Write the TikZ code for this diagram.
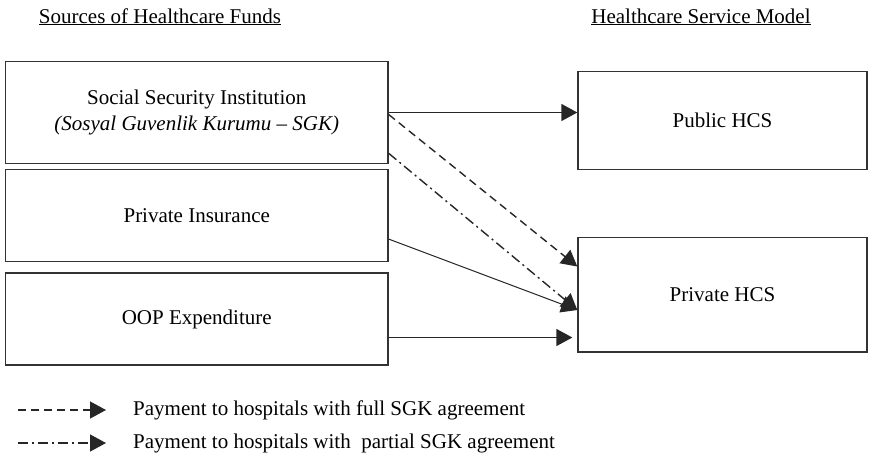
\documentclass[tikz,border=0pt]{standalone}
\usepackage{fontspec}
\setmainfont{Liberation Serif}
\usetikzlibrary{arrows.meta}
\usetikzlibrary{calc}

\begin{document}
\begin{tikzpicture}[x=1pt, y=-1pt,
	box/.style={draw=black!80, line width=1.3pt, rectangle, inner sep=0pt, align=center, font=\fontsize{21}{26}\selectfont},
	lbl/.style={inner sep=0pt, font=\fontsize{21}{26}\selectfont},
	flow/.style={draw=black!85, line width=1.4pt, -{Triangle[length=16pt,width=17pt]}},
	full/.style={flow, dash pattern=on 8pt off 5pt},
	part/.style={flow, dash pattern=on 10pt off 4pt on 2pt off 4pt}]
	\useasboundingbox (0,0) rectangle (869,455);
	\node[lbl, anchor=base] (src) at (160,23) {\underline{Sources of Healthcare Funds}};
	\node[lbl, anchor=base] (mdl) at (701,23) {\underline{Healthcare Service Model}};
	\node[box, minimum width=382.5pt, minimum height=102pt] (ssi) at (196.75,112.5) {Social Security Institution\\\textit{(Sosyal Guvenlik Kurumu -- SGK)}};
	\node[box, minimum width=382.5pt, minimum height=92pt] (pins) at (196.75,215.5) {Private Insurance};
	\node[box, minimum width=382.5pt, minimum height=92pt] (oop) at (196.75,319) {OOP Expenditure};
	\node[box, minimum width=289pt, minimum height=98pt] (pub) at (722.5,120.4) {Public HCS};
	\node[box, minimum width=289pt, minimum height=114.5pt] (priv) at (722.5,294.75) {Private HCS};
	\draw[flow] (ssi.east) -- (ssi.east -| pub.west);
	\draw[full] ([yshift=-2pt]ssi.east) -- (priv.169.5);
	\draw[part] (ssi.-12.7) -- (priv.186);
	\draw[flow, line width=1pt] (pins.-7.1) -- (priv.186);
	\draw[flow, shorten >=5pt] ([yshift=-18.5pt]oop.east) -- ([yshift=-18.5pt]oop.east -| priv.west);
	\node[lbl, anchor=west] (lfull) at (133,410) {Payment to hospitals with full SGK agreement};
	\node[lbl, anchor=west] (lpart) at (133,443) {Payment to hospitals with \ partial SGK agreement};
	\draw[full] ([xshift=-115pt]lfull.west) -- ([xshift=-27pt]lfull.west);
	\draw[part] ([xshift=-115pt]lpart.west) -- ([xshift=-27pt]lpart.west);
\end{tikzpicture}
\end{document}
